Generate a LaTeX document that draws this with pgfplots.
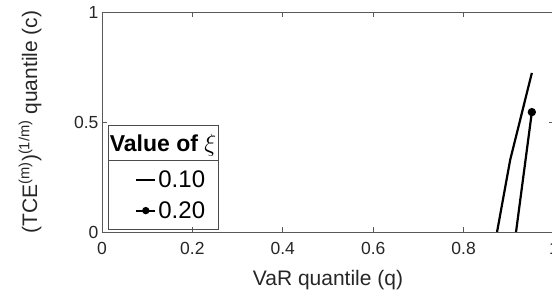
\documentclass[border=0pt]{standalone}
\usepackage{fontspec}
\setmainfont{Liberation Sans}
\usepackage{pgfplots}
\pgfplotsset{compat=1.18}
\definecolor{txt}{rgb}{0.15,0.15,0.15}
\begin{document}
\begin{tikzpicture}
\begin{axis}[
  at={(0pt,0pt)}, anchor=south west,
  scale only axis, width=452pt, height=220pt,
  xmin=0, xmax=1, ymin=0, ymax=1,
  xtick={0,0.2,0.4,0.6,0.8,1}, ytick={0,0.5,1},
  xticklabels={0,0.2,0.4,0.6,0.8,1},
  yticklabels={0,0.5,1},
  tick align=inside, major tick length=5pt,
  axis line style={black!65, line width=0.6pt},
  tick style={black!65, line width=0.6pt},
  tick label style={font=\fontsize{17.5}{20}\selectfont, text=txt},
  xticklabel style={yshift=-7pt},
  xlabel={VaR quantile (q)},
  ylabel={(TCE\textsuperscript{(m)})\textsuperscript{(1/m)} quantile (c)},
  every axis x label/.style={at={(axis description cs:0.5,-0.241)}, anchor=base, font=\fontsize{21}{24}\selectfont, text=txt},
  every axis y label/.style={at={(axis description cs:-0.1438,0.5)}, anchor=base, rotate=90, font=\fontsize{21}{24}\selectfont, text=txt},
  legend style={at={(axis description cs:0.153,0.166)}, anchor=center, draw=none, fill=none,
    font=\fontsize{24}{28}\selectfont, row sep=8pt, inner sep=1pt},
  legend cell align=left,
  legend image code/.code={
    \draw[#1,mark=none] (0pt,0pt) -- (19pt,0pt);
    \draw[#1,only marks] plot coordinates {(9.5pt,0pt)};
  },
]
\addplot[black, line width=2.2pt] coordinates {(0.874,0) (0.903,0.327) (0.951,0.723)};
\addlegendentry{0.10}
\addplot[black, line width=2.2pt, mark=*, mark size=3pt, mark indices={2}, forget plot] coordinates {(0.916,0) (0.951,0.545)};
\addlegendimage{black, line width=2.2pt, mark=*, mark size=2.5pt}
\addlegendentry{0.20}
\end{axis}
\draw[black!70, line width=0.6pt] (6pt,3pt) rectangle (116pt,107pt);
\draw[black!70, line width=0.6pt] (6pt,72pt) -- (116pt,72pt);
\node[font=\fontsize{23}{26}\selectfont\bfseries, anchor=base] at (61pt,80pt) {Value of $\xi$};
\pgfresetboundingbox
\useasboundingbox (-102pt,-65pt) rectangle (450pt,232pt);
\end{tikzpicture}
\end{document}
